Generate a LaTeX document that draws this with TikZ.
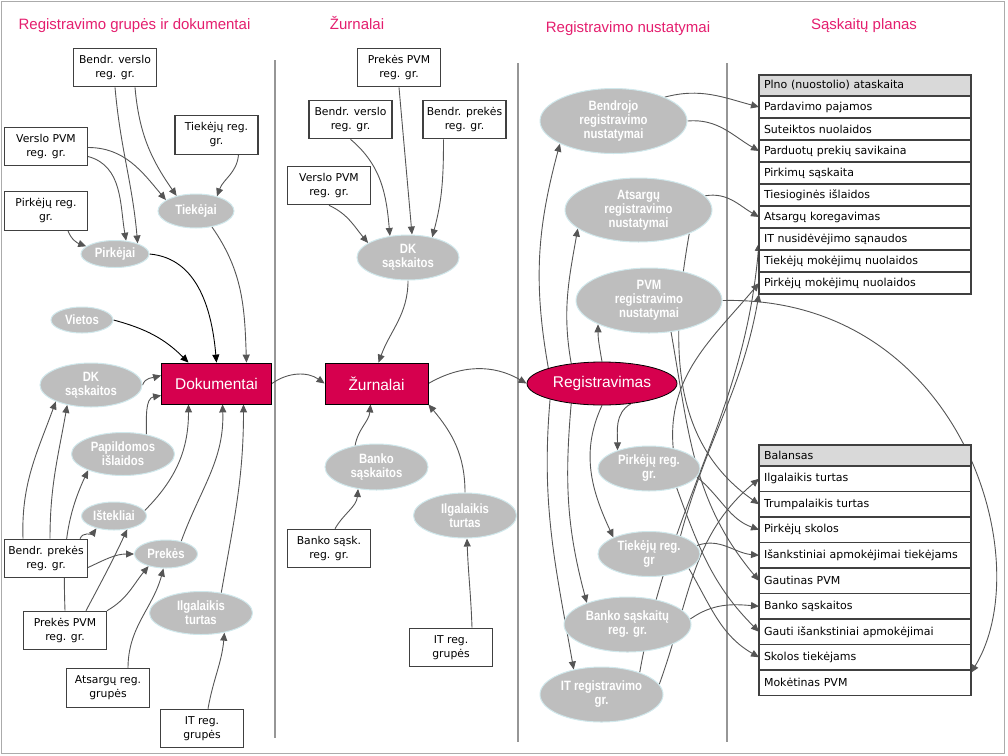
\documentclass[tikz,border=0pt]{standalone}
\usepackage{fontspec}
\setmainfont{Liberation Sans}
\newfontfamily\tablefont{DejaVu Sans}
\newfontfamily\ellfont[FakeStretch=0.84]{Liberation Sans}
\usetikzlibrary{shapes.geometric,arrows.meta,backgrounds}

\definecolor{titlepink}{RGB}{228,30,110}
\definecolor{mainred}{RGB}{214,0,78}
\definecolor{ellgrey}{RGB}{190,190,190}
\definecolor{ellrim}{RGB}{208,232,236}
\definecolor{linegrey}{RGB}{85,85,85}
\definecolor{sepgrey}{RGB}{150,150,150}
\definecolor{headgrey}{RGB}{217,217,217}

\begin{document}
\begin{tikzpicture}[x=1pt, y=1pt,
  coltitle/.style={text=titlepink, anchor=base, font=\fontsize{15}{18}\selectfont},
  regbox/.style={draw=black!75, fill=white, line width=1.1pt, align=center,
    font=\tablefont\fontsize{10.8}{14}\selectfont,
    minimum width=83pt, minimum height=38.5pt, inner sep=2pt},
  grp/.style={ellipse, fill=ellgrey, draw=ellrim, line width=1pt, text=white,
    align=center, inner sep=0pt, font={\ellfont\fontsize{13.5}{14}\selectfont\bfseries}},
  mainbox/.style={draw=black, fill=mainred, text=white, line width=0.8pt,
    minimum height=41pt, font=\fontsize{15.5}{18}\selectfont},
  acctrow/.style={draw=black!75, fill=white, line width=1.1pt, anchor=north west,
    outer sep=0pt, text width=202pt, inner xsep=5pt, inner ysep=0pt, align=left,
    minimum height=22pt, font=\tablefont\fontsize{11}{13}\selectfont},
  balrow/.style={acctrow, minimum height=25.5pt},
  divider/.style={draw=sepgrey, line width=1.4pt},
  conn/.style={draw=linegrey, line width=0.9pt, -{Triangle[length=8pt,width=7pt]}},
]
\useasboundingbox (0,0) rectangle (1008,-755);

% antraštės
\node[coltitle] (t1) at (134.5,-29) {Registravimo grupės ir dokumentai};
\node[coltitle] (t2) at (357,-29) {Žurnalai};
\node[coltitle] (t3) at (628,-32) {Registravimo nustatymai};
\node[coltitle] (t4) at (864,-29) {Sąskaitų planas};

% 1 stulpelis: registravimo grupės ir dokumentai
\node[regbox] (bv1) at (115,-67.5) {Bendr. verslo\\reg. gr.};
\node[regbox] (tiekreg1) at (216.5,-135) {Tiekėjų reg.\\gr.};
\node[regbox] (vpvm1) at (46,-146.5) {Verslo PVM\\reg. gr.};
\node[regbox] (pirkreg1) at (46,-211) {Pirkėjų reg.\\gr.};
\node[grp, minimum width=76pt, minimum height=34pt] (tiekejai) at (196,-211) {Tiekėjai};
\node[grp, minimum width=68pt, minimum height=27pt] (pirkejai) at (115,-254) {Pirkėjai};
\node[grp, minimum width=62pt, minimum height=26pt] (vietos) at (82,-320) {Vietos};
\node[grp, minimum width=102pt, minimum height=44pt] (dkl) at (91,-385) {DK\\sąskaitos};
\node[mainbox, minimum width=110pt] (dok) at (216.5,-383.5) {Dokumentai};
\node[grp, minimum width=103pt, minimum height=43pt] (papild) at (123,-454) {Papildomos\\išlaidos};
\node[grp, minimum width=65pt, minimum height=28pt] (istekliai) at (114,-516) {Ištekliai};
\node[grp, minimum width=63pt, minimum height=28pt] (prekes) at (166,-554) {Prekės};
\node[grp, minimum width=103pt, minimum height=43pt] (ilgal1) at (201,-613) {Ilgalaikis\\turtas};
\node[regbox] (bprek1) at (46,-558.5) {Bendr. prekės\\reg. gr.};
\node[regbox] (pvm1) at (65,-630.5) {Prekės PVM\\reg. gr.};
\node[regbox] (atsreg1) at (108,-688) {Atsargų reg.\\grupės};
\node[regbox] (itreg1) at (202,-728.5) {IT reg.\\grupės};

% 2 stulpelis: žurnalai
\node[regbox] (pvm2) at (399,-67.5) {Prekės PVM\\reg. gr.};
\node[regbox] (bv2) at (350.5,-119.5) {Bendr. verslo\\reg. gr.};
\node[regbox] (bprek2) at (464.5,-119.5) {Bendr. prekės\\reg. gr.};
\node[regbox] (vpvm2) at (329,-185.5) {Verslo PVM\\reg. gr.};
\node[grp, minimum width=102pt, minimum height=45pt] (dk2) at (408,-257.5) {DK\\sąskaitos};
\node[mainbox, minimum width=103pt] (zur) at (376.5,-383.5) {Žurnalai};
\node[grp, minimum width=103pt, minimum height=46pt] (banko2) at (376.5,-467) {Banko\\sąskaitos};
\node[grp, minimum width=103pt, minimum height=45pt] (ilg2) at (465,-515.5) {Ilgalaikis\\turtas};
\node[regbox] (bsreg) at (329,-548.5) {Banko sąsk.\\reg. gr.};
\node[regbox] (itreg2) at (451,-647.5) {IT reg.\\grupės};

% 3 stulpelis: registravimo nustatymai
\node[grp, minimum width=147pt, minimum height=65pt] (bendr) at (613.5,-121) {Bendrojo\\registravimo\\nustatymai};
\node[grp, minimum width=147pt, minimum height=64pt] (atsrn) at (638.5,-210) {Atsargų\\registravimo\\nustatymai};
\node[grp, minimum width=146pt, minimum height=65pt] (pvmrn) at (649,-300.5) {PVM\\registravimo\\nustatymai};
\node[ellipse, draw=black, fill=mainred, text=white, line width=0.8pt, inner sep=0pt,
  minimum width=150pt, minimum height=43pt, font=\fontsize{15.5}{18}\selectfont] (reg) at (602,-383.5) {Registravimas};
\node[grp, minimum width=102pt, minimum height=45pt] (pirkrg) at (649,-468.5) {Pirkėjų reg.\\gr.};
\node[grp, minimum width=102pt, minimum height=45pt] (tiekrg) at (649,-554) {Tiekėjų reg.\\gr};
\node[grp, minimum width=127pt, minimum height=55pt] (bankorg) at (627.5,-624.5) {Banko sąskaitų\\reg. gr.};
\node[grp, minimum width=123pt, minimum height=55pt] (itrg) at (601.5,-694.5) {IT registravimo\\gr.};

% 4 stulpelis: sąskaitų planas
\node[acctrow, fill=headgrey, minimum height=21pt] (pl0) at (759,-75) {Plno (nuostolio) ataskaita};
\node[acctrow] (pl1) at (pl0.south west) {Pardavimo pajamos};
\node[acctrow] (pl2) at (pl1.south west) {Suteiktos nuolaidos};
\node[acctrow] (pl3) at (pl2.south west) {Parduotų prekių savikaina};
\node[acctrow] (pl4) at (pl3.south west) {Pirkimų sąskaita};
\node[acctrow] (pl5) at (pl4.south west) {Tiesioginės išlaidos};
\node[acctrow] (pl6) at (pl5.south west) {Atsargų koregavimas};
\node[acctrow] (pl7) at (pl6.south west) {IT nusidėvėjimo sąnaudos};
\node[acctrow] (pl8) at (pl7.south west) {Tiekėjų mokėjimų nuolaidos};
\node[acctrow] (pl9) at (pl8.south west) {Pirkėjų mokėjimų nuolaidos};

\node[acctrow, fill=headgrey, minimum height=21pt] (bs0) at (759,-445) {Balansas};
\node[balrow] (bs1) at (bs0.south west) {Ilgalaikis turtas};
\node[balrow] (bs2) at (bs1.south west) {Trumpalaikis turtas};
\node[balrow] (bs3) at (bs2.south west) {Pirkėjų skolos};
\node[balrow] (bs4) at (bs3.south west) {Išankstiniai apmokėjimai tiekėjams};
\node[balrow] (bs5) at (bs4.south west) {Gautinas PVM};
\node[balrow] (bs6) at (bs5.south west) {Banko sąskaitos};
\node[balrow] (bs7) at (bs6.south west) {Gauti išankstiniai apmokėjimai};
\node[balrow] (bs8) at (bs7.south west) {Skolos tiekėjams};
\node[balrow] (bs9) at (bs8.south west) {Mokėtinas PVM};

\begin{pgfonlayer}{background}
  % rėmas ir skyrikliai
  \draw[sepgrey!80, line width=1pt] (1,-1) rectangle (1004,-753);
  \draw[divider] (275,-60) -- (275,-738);
  \draw[divider] (518,-63) -- (518,-742);
  \draw[divider] (727,-63) -- (727,-742);

  % 1 stulpelio ryšiai
  \draw[conn] ([xshift=20pt]bv1.south) to[out=-85,in=125] (tiekejai.142);
  \draw[conn] (bv1.south) to[out=-85,in=95] (pirkejai.25);
  \draw[conn] ([yshift=-1pt]vpvm1.east) to[out=0,in=130] (tiekejai.160);
  \draw[conn] ([yshift=-10pt]vpvm1.east) to[out=-15,in=100] (pirkejai.50);
  \draw[conn] ([xshift=22pt]tiekreg1.south) to[out=-95,in=70] (tiekejai.35);
  \draw[conn] ([xshift=22pt]pirkreg1.south) to[out=-70,in=160] (pirkejai.165);
  \draw[conn, draw=black] (pirkejai.east) to[out=-5,in=95] (dok.north);
  \draw[conn] (tiekejai.-45) to[out=-55,in=92] ([xshift=30pt]dok.north);
  \draw[conn, draw=black] (vietos.east) to[out=-15,in=135] ([xshift=-28pt]dok.north);
  \draw[conn] (dkl.east) to[out=70,in=195] ([yshift=8pt]dok.west);
  \draw[conn] (papild.40) to[out=90,in=190] ([yshift=-12pt]dok.west);
  \draw[conn] (istekliai.10) to[out=45,in=-90] ([xshift=-28pt]dok.south);
  \draw[conn] (prekes.40) to[out=70,in=-88] ([xshift=6pt]dok.south);
  \draw[conn] (ilgal1.45) to[out=80,in=-90] ([xshift=27pt]dok.south);
  \draw[conn] ([xshift=-23pt]bprek1.north) to[out=92,in=-110] (dkl.-155);
  \draw[conn] ([xshift=4pt]bprek1.north) to[out=90,in=-100] (dkl.-140);
  \draw[conn] (pvm1.north) to[out=92,in=-115] (papild.-155);
  \draw[conn] ([xshift=-8pt]bprek1.north east) to[out=70,in=-125] (istekliai.-145);
  \draw[conn] ([yshift=-9pt]bprek1.east) to[out=25,in=180] (prekes.west);
  \draw[conn] ([xshift=21pt]pvm1.north) to[out=62,in=-115] (istekliai.-45);
  \draw[conn] (pvm1.north east) to[out=30,in=-130] (prekes.-145);
  \draw[conn] ([xshift=20pt]atsreg1.north) to[out=90,in=-105] (prekes.-100);
  \draw[conn] ([xshift=6pt]itreg1.north) to[out=80,in=-95] (ilgal1.-40);

  % 2 stulpelio ryšiai
  \draw[conn] (pvm2.south) to[out=-85,in=95] ([xshift=4pt]dk2.north);
  \draw[conn] (bv2.south) to[out=-40,in=95] (dk2.130);
  \draw[conn] ([xshift=-21pt]bprek2.south) to[out=-90,in=75] (dk2.40);
  \draw[conn] (vpvm2.south) to[out=-25,in=130] (dk2.160);
  \draw[conn] (dk2.south) to[out=-90,in=70] ([xshift=2pt]zur.north);
  \draw[conn] (dok.east) to[bend left=35] (zur.west);
  \draw[conn] (zur.east) to[bend left=30] (reg.west);
  \draw[conn] (banko2.135) to[out=80,in=-95] ([xshift=-6pt]zur.south);
  \draw[conn] (ilg2.north) to[out=90,in=-50] (zur.south east);
  \draw[conn] ([xshift=6pt]bsreg.north) to[out=60,in=-95] (banko2.-130);
  \draw[conn] ([xshift=21pt]itreg2.north) to[out=92,in=-88] ([xshift=2pt]ilg2.south);

  % 3 stulpelio ryšiai
  \draw[conn] (reg.164) to[out=100,in=-105] (bendr.-157);
  \draw[conn] (reg.147) to[out=100,in=-100] (atsrn.-163);
  \draw[conn] (reg.north) to[out=100,in=-90] (pvmrn.-155);
  \draw[conn] (reg.-35) to[out=-150,in=90] (pirkrg.150);
  \draw[conn] (reg.-90) to[out=-115,in=115] (tiekrg.155);
  \draw[conn] (reg.-147) to[out=-95,in=105] (bankorg.152);
  \draw[conn] (reg.-163) to[out=-95,in=100] (itrg.138);

  % nustatymai -> sąskaitos
  \draw[conn] (bendr.25) to[out=15,in=165] (pl1.west);
  \draw[conn] (bendr.east) to[out=5,in=150] (pl3.west);
  \draw[conn] (atsrn.12) to[out=10,in=150] (pl6.west);
  \draw[conn] (atsrn.-25) to[out=-100,in=145] (bs2.west);
  \draw[conn] (pvmrn.east) .. controls (960,-295) and (1040,-560) .. ([yshift=10pt]bs9.east);
  \draw[conn] (pvmrn.-55) to[out=-80,in=130] (bs5.west);
  \draw[conn] (pirkrg.40) to[out=95,in=-130] (pl9.west);
  \draw[conn] (tiekrg.30) to[out=75,in=-100] (pl9.south west);
  \draw[conn] (itrg.30) to[out=80,in=-95] ([yshift=-4pt]pl7.west);
  \draw[conn] (itrg.10) to[out=70,in=-140] (bs1.west);
  \draw[conn] (pirkrg.-10) to[out=-40,in=160] (bs3.west);
  \draw[conn] (pirkrg.-35) to[out=-70,in=135] (bs7.west);
  \draw[conn] (tiekrg.10) to[out=20,in=175] (bs4.west);
  \draw[conn] (tiekrg.-20) to[out=-60,in=150] (bs8.west);
  \draw[conn] (bankorg.5) to[out=35,in=175] (bs6.west);
\end{pgfonlayer}
\end{tikzpicture}
\end{document}
